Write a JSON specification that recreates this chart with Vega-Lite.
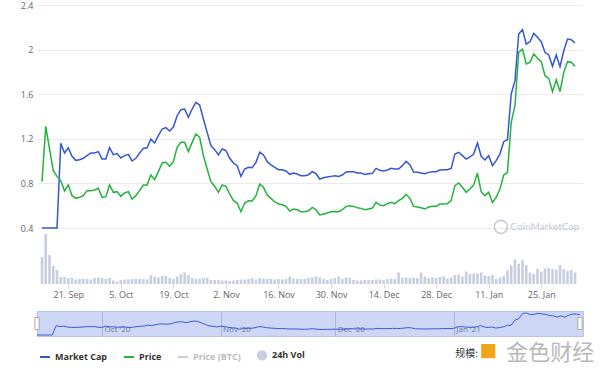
{
"$schema": "https://vega.github.io/schema/vega-lite/v6.json",
"background": "white",
"padding": {"left": 4, "top": 1, "right": 5, "bottom": 0},
"spacing": 11,
"config": {"font": "Open Sans", "view": {"stroke": null}},
"datasets": {"d": [
{"date":"2020-09-14","Market Cap":0.4,"Price":0.816,"Vol":27},
{"date":"2020-09-15","Market Cap":0.4,"Price":1.312,"Vol":50},
{"date":"2020-09-16","Market Cap":0.4,"Price":1.109,"Vol":29},
{"date":"2020-09-17","Market Cap":0.4,"Price":0.914,"Vol":18},
{"date":"2020-09-18","Market Cap":0.4,"Price":0.863,"Vol":14},
{"date":"2020-09-19","Market Cap":1.159,"Price":0.825,"Vol":7},
{"date":"2020-09-20","Market Cap":1.073,"Price":0.732,"Vol":7},
{"date":"2020-09-21","Market Cap":1.120,"Price":0.786,"Vol":6},
{"date":"2020-09-22","Market Cap":1.043,"Price":0.690,"Vol":6},
{"date":"2020-09-23","Market Cap":1.007,"Price":0.666,"Vol":4.5},
{"date":"2020-09-24","Market Cap":1.013,"Price":0.675,"Vol":5},
{"date":"2020-09-25","Market Cap":1.025,"Price":0.690,"Vol":5},
{"date":"2020-09-26","Market Cap":1.049,"Price":0.735,"Vol":5},
{"date":"2020-09-27","Market Cap":1.073,"Price":0.735,"Vol":4.5},
{"date":"2020-09-28","Market Cap":1.073,"Price":0.741,"Vol":6},
{"date":"2020-09-29","Market Cap":1.085,"Price":0.756,"Vol":6.5},
{"date":"2020-09-30","Market Cap":1.019,"Price":0.675,"Vol":6},
{"date":"2020-10-01","Market Cap":1.019,"Price":0.681,"Vol":5},
{"date":"2020-10-02","Market Cap":1.120,"Price":0.786,"Vol":6},
{"date":"2020-10-03","Market Cap":1.058,"Price":0.720,"Vol":3.5},
{"date":"2020-10-04","Market Cap":1.067,"Price":0.726,"Vol":2.5},
{"date":"2020-10-05","Market Cap":1.028,"Price":0.684,"Vol":4},
{"date":"2020-10-06","Market Cap":1.049,"Price":0.714,"Vol":4.5},
{"date":"2020-10-07","Market Cap":1.061,"Price":0.726,"Vol":4.5},
{"date":"2020-10-08","Market Cap":1.001,"Price":0.660,"Vol":5},
{"date":"2020-10-09","Market Cap":1.025,"Price":0.690,"Vol":5},
{"date":"2020-10-10","Market Cap":1.073,"Price":0.735,"Vol":5},
{"date":"2020-10-11","Market Cap":1.114,"Price":0.786,"Vol":5},
{"date":"2020-10-12","Market Cap":1.120,"Price":0.786,"Vol":4.5},
{"date":"2020-10-13","Market Cap":1.198,"Price":0.875,"Vol":8.5},
{"date":"2020-10-14","Market Cap":1.162,"Price":0.834,"Vol":7.5},
{"date":"2020-10-15","Market Cap":1.228,"Price":0.905,"Vol":6.5},
{"date":"2020-10-16","Market Cap":1.288,"Price":0.983,"Vol":8},
{"date":"2020-10-17","Market Cap":1.300,"Price":0.989,"Vol":8},
{"date":"2020-10-18","Market Cap":1.270,"Price":0.953,"Vol":6},
{"date":"2020-10-19","Market Cap":1.306,"Price":0.995,"Vol":5},
{"date":"2020-10-20","Market Cap":1.407,"Price":1.123,"Vol":7.5},
{"date":"2020-10-21","Market Cap":1.461,"Price":1.168,"Vol":10},
{"date":"2020-10-22","Market Cap":1.467,"Price":1.168,"Vol":11.5},
{"date":"2020-10-23","Market Cap":1.393,"Price":1.085,"Vol":9},
{"date":"2020-10-24","Market Cap":1.467,"Price":1.168,"Vol":6},
{"date":"2020-10-25","Market Cap":1.527,"Price":1.243,"Vol":5},
{"date":"2020-10-26","Market Cap":1.503,"Price":1.213,"Vol":5},
{"date":"2020-10-27","Market Cap":1.378,"Price":1.049,"Vol":6},
{"date":"2020-10-28","Market Cap":1.258,"Price":0.929,"Vol":6},
{"date":"2020-10-29","Market Cap":1.138,"Price":0.816,"Vol":4},
{"date":"2020-10-30","Market Cap":1.103,"Price":0.774,"Vol":4},
{"date":"2020-10-31","Market Cap":1.055,"Price":0.720,"Vol":4},
{"date":"2020-11-01","Market Cap":1.109,"Price":0.786,"Vol":3.5},
{"date":"2020-11-02","Market Cap":1.094,"Price":0.774,"Vol":3.5},
{"date":"2020-11-03","Market Cap":1.025,"Price":0.705,"Vol":3},
{"date":"2020-11-04","Market Cap":0.983,"Price":0.645,"Vol":3.5},
{"date":"2020-11-05","Market Cap":0.959,"Price":0.624,"Vol":4},
{"date":"2020-11-06","Market Cap":0.863,"Price":0.546,"Vol":4.5},
{"date":"2020-11-07","Market Cap":0.929,"Price":0.624,"Vol":4.5},
{"date":"2020-11-08","Market Cap":0.944,"Price":0.645,"Vol":5},
{"date":"2020-11-09","Market Cap":0.941,"Price":0.642,"Vol":6},
{"date":"2020-11-10","Market Cap":0.989,"Price":0.690,"Vol":4.5},
{"date":"2020-11-11","Market Cap":1.079,"Price":0.795,"Vol":6},
{"date":"2020-11-12","Market Cap":1.055,"Price":0.765,"Vol":5.5},
{"date":"2020-11-13","Market Cap":0.995,"Price":0.696,"Vol":5},
{"date":"2020-11-14","Market Cap":0.965,"Price":0.666,"Vol":5},
{"date":"2020-11-15","Market Cap":0.944,"Price":0.636,"Vol":4.5},
{"date":"2020-11-16","Market Cap":0.923,"Price":0.615,"Vol":5},
{"date":"2020-11-17","Market Cap":0.923,"Price":0.609,"Vol":4.5},
{"date":"2020-11-18","Market Cap":0.911,"Price":0.594,"Vol":5},
{"date":"2020-11-19","Market Cap":0.881,"Price":0.552,"Vol":7.5},
{"date":"2020-11-20","Market Cap":0.893,"Price":0.570,"Vol":5.5},
{"date":"2020-11-21","Market Cap":0.884,"Price":0.564,"Vol":5},
{"date":"2020-11-22","Market Cap":0.869,"Price":0.546,"Vol":5},
{"date":"2020-11-23","Market Cap":0.869,"Price":0.546,"Vol":5},
{"date":"2020-11-24","Market Cap":0.878,"Price":0.555,"Vol":6},
{"date":"2020-11-25","Market Cap":0.905,"Price":0.585,"Vol":6.5},
{"date":"2020-11-26","Market Cap":0.887,"Price":0.564,"Vol":7.5},
{"date":"2020-11-27","Market Cap":0.839,"Price":0.517,"Vol":6.5},
{"date":"2020-11-28","Market Cap":0.851,"Price":0.526,"Vol":5},
{"date":"2020-11-29","Market Cap":0.857,"Price":0.535,"Vol":4},
{"date":"2020-11-30","Market Cap":0.863,"Price":0.546,"Vol":5},
{"date":"2020-12-01","Market Cap":0.869,"Price":0.549,"Vol":6},
{"date":"2020-12-02","Market Cap":0.863,"Price":0.546,"Vol":7.5},
{"date":"2020-12-03","Market Cap":0.875,"Price":0.564,"Vol":5},
{"date":"2020-12-04","Market Cap":0.902,"Price":0.594,"Vol":6.5},
{"date":"2020-12-05","Market Cap":0.905,"Price":0.600,"Vol":6},
{"date":"2020-12-06","Market Cap":0.905,"Price":0.594,"Vol":4},
{"date":"2020-12-07","Market Cap":0.893,"Price":0.582,"Vol":3.5},
{"date":"2020-12-08","Market Cap":0.893,"Price":0.576,"Vol":3.5},
{"date":"2020-12-09","Market Cap":0.881,"Price":0.564,"Vol":4},
{"date":"2020-12-10","Market Cap":0.887,"Price":0.570,"Vol":4},
{"date":"2020-12-11","Market Cap":0.890,"Price":0.579,"Vol":4},
{"date":"2020-12-12","Market Cap":0.935,"Price":0.630,"Vol":4.5},
{"date":"2020-12-13","Market Cap":0.917,"Price":0.606,"Vol":4.5},
{"date":"2020-12-14","Market Cap":0.911,"Price":0.600,"Vol":4},
{"date":"2020-12-15","Market Cap":0.920,"Price":0.618,"Vol":5},
{"date":"2020-12-16","Market Cap":0.935,"Price":0.630,"Vol":5.5},
{"date":"2020-12-17","Market Cap":0.929,"Price":0.618,"Vol":5},
{"date":"2020-12-18","Market Cap":0.929,"Price":0.645,"Vol":11.5},
{"date":"2020-12-19","Market Cap":0.959,"Price":0.666,"Vol":6},
{"date":"2020-12-20","Market Cap":0.998,"Price":0.702,"Vol":6.5},
{"date":"2020-12-21","Market Cap":0.968,"Price":0.666,"Vol":6},
{"date":"2020-12-22","Market Cap":0.902,"Price":0.594,"Vol":6},
{"date":"2020-12-23","Market Cap":0.899,"Price":0.588,"Vol":6},
{"date":"2020-12-24","Market Cap":0.893,"Price":0.582,"Vol":11.5},
{"date":"2020-12-25","Market Cap":0.887,"Price":0.570,"Vol":7.5},
{"date":"2020-12-26","Market Cap":0.899,"Price":0.588,"Vol":6},
{"date":"2020-12-27","Market Cap":0.905,"Price":0.594,"Vol":6.5},
{"date":"2020-12-28","Market Cap":0.905,"Price":0.594,"Vol":6},
{"date":"2020-12-29","Market Cap":0.920,"Price":0.615,"Vol":7},
{"date":"2020-12-30","Market Cap":0.923,"Price":0.615,"Vol":7.5},
{"date":"2020-12-31","Market Cap":0.923,"Price":0.618,"Vol":5},
{"date":"2021-01-01","Market Cap":0.935,"Price":0.645,"Vol":6.5},
{"date":"2021-01-02","Market Cap":1.064,"Price":0.780,"Vol":9},
{"date":"2021-01-03","Market Cap":1.079,"Price":0.804,"Vol":9.5},
{"date":"2021-01-04","Market Cap":1.049,"Price":0.765,"Vol":7.5},
{"date":"2021-01-05","Market Cap":1.019,"Price":0.720,"Vol":12.5},
{"date":"2021-01-06","Market Cap":1.037,"Price":0.750,"Vol":10},
{"date":"2021-01-07","Market Cap":1.064,"Price":0.786,"Vol":10.5},
{"date":"2021-01-08","Market Cap":1.162,"Price":0.893,"Vol":10.5},
{"date":"2021-01-09","Market Cap":1.043,"Price":0.726,"Vol":11.5},
{"date":"2021-01-10","Market Cap":1.010,"Price":0.690,"Vol":8.5},
{"date":"2021-01-11","Market Cap":1.049,"Price":0.720,"Vol":8},
{"date":"2021-01-12","Market Cap":0.959,"Price":0.630,"Vol":9},
{"date":"2021-01-13","Market Cap":1.004,"Price":0.675,"Vol":5},
{"date":"2021-01-14","Market Cap":1.064,"Price":0.750,"Vol":6.5},
{"date":"2021-01-15","Market Cap":1.174,"Price":0.875,"Vol":8},
{"date":"2021-01-16","Market Cap":1.192,"Price":0.899,"Vol":13.5},
{"date":"2021-01-17","Market Cap":1.602,"Price":1.348,"Vol":18.5},
{"date":"2021-01-18","Market Cap":1.721,"Price":1.497,"Vol":24.5},
{"date":"2021-01-19","Market Cap":2.140,"Price":1.975,"Vol":20},
{"date":"2021-01-20","Market Cap":2.179,"Price":2.005,"Vol":24},
{"date":"2021-01-21","Market Cap":2.050,"Price":1.871,"Vol":19},
{"date":"2021-01-22","Market Cap":2.071,"Price":1.886,"Vol":11.5},
{"date":"2021-01-23","Market Cap":2.146,"Price":1.961,"Vol":10},
{"date":"2021-01-24","Market Cap":2.110,"Price":1.922,"Vol":15},
{"date":"2021-01-25","Market Cap":2.071,"Price":1.892,"Vol":12.5},
{"date":"2021-01-26","Market Cap":1.975,"Price":1.766,"Vol":15.5},
{"date":"2021-01-27","Market Cap":1.952,"Price":1.742,"Vol":16},
{"date":"2021-01-28","Market Cap":1.850,"Price":1.623,"Vol":15},
{"date":"2021-01-29","Market Cap":1.952,"Price":1.730,"Vol":14.5},
{"date":"2021-01-30","Market Cap":1.847,"Price":1.623,"Vol":19},
{"date":"2021-01-31","Market Cap":1.990,"Price":1.796,"Vol":15},
{"date":"2021-02-01","Market Cap":2.095,"Price":1.892,"Vol":13},
{"date":"2021-02-02","Market Cap":2.089,"Price":1.886,"Vol":14},
{"date":"2021-02-03","Market Cap":2.059,"Price":1.850,"Vol":11.5}
]},
"vconcat": [
{
"width": 546, "height": 279,
"data": {"name": "d"},
"layer": [
{
"mark": {"type": "bar", "size": 2.6},
"encoding": {
"x": {"field": "date", "type": "temporal",
"scale": {"type": "utc", "domain": [{"year": 2020, "month": 9, "date": 14, "utc": true}, {"year": 2021, "month": 2, "date": 3, "hours": 19, "utc": true}]},
"axis": {"title": null, "grid": false, "domain": false, "format": "%-d. %b", "labelFontSize": 9, "labelColor": "#666666", "tickSize": 4, "tickColor": "#ccd6eb", "labelPadding": 2,
"values": [{"year": 2020, "month": 9, "date": 21, "utc": true}, {"year": 2020, "month": 10, "date": 5, "utc": true}, {"year": 2020, "month": 10, "date": 19, "utc": true}, {"year": 2020, "month": 11, "date": 2, "utc": true}, {"year": 2020, "month": 11, "date": 16, "utc": true}, {"year": 2020, "month": 11, "date": 30, "utc": true}, {"year": 2020, "month": 12, "date": 14, "utc": true}, {"year": 2020, "month": 12, "date": 28, "utc": true}, {"year": 2021, "month": 1, "date": 11, "utc": true}, {"year": 2021, "month": 1, "date": 25, "utc": true}]}},
"y": {"field": "Vol", "type": "quantitative", "scale": {"domain": [0, 279], "nice": false}, "axis": null},
"color": {"datum": "24h Vol", "type": "nominal"}
}
},
{
"transform": [{"fold": ["Market Cap", "Price"], "as": ["series", "value"]}],
"mark": {"type": "line", "strokeWidth": 1.5},
"encoding": {
"x": {"field": "date", "type": "temporal"},
"y": {"field": "value", "type": "quantitative", "scale": {"domain": [-0.1022, 2.4], "nice": false, "zero": false},
"axis": {"title": null, "values": [0.4, 0.8, 1.2, 1.6, 2, 2.4], "format": "~g", "grid": true, "gridColor": "#ebebeb", "domain": false, "ticks": false, "tickSize": 0, "labelPadding": 4, "labelFontSize": 9, "labelColor": "#666666", "minExtent": 33, "maxExtent": 33}},
"color": {"field": "series", "type": "nominal",
"scale": {"domain": ["Market Cap", "Price", "Price (BTC)", "24h Vol"], "range": ["#3457d5", "#22b43a", "#cccccc", "#c8cedf"]},
"legend": {"title": null, "orient": "none", "legendX": 2, "legendY": 344, "direction": "horizontal", "columns": 4,
"symbolType": "stroke", "symbolSize": 100, "symbolStrokeWidth": 2, "labelFontSize": 9, "labelFontWeight": "bold", "labelColor": "#333333", "labelOffset": 4, "columnPadding": 12,
"encode": {
"symbols": {"update": {
"shape": {"signal": "datum.value === '24h Vol' ? 'circle' : 'stroke'"},
"stroke": {"signal": "scale('color', datum.value)"},
"fill": {"signal": "datum.value === '24h Vol' ? scale('color', datum.value) : 'transparent'"},
"size": {"signal": "datum.value === '24h Vol' ? 70 : 100"},
"opacity": {"value": 1}}},
"labels": {"update": {"fill": {"signal": "datum.value === 'Price (BTC)' ? '#bbbbbb' : '#333333'"}}}
}}
}
}
},
{
"data": {"values": [{}]},
"mark": {"type": "text", "text": "CoinMarketCap", "align": "right", "baseline": "middle", "fontSize": 10, "color": "#c3c8d6", "font": "Lato"},
"encoding": {
"x": {"datum": {"year": 2021, "month": 2, "date": 4, "hours": 2, "utc": true}, "type": "temporal"},
"y": {"datum": 0.41, "type": "quantitative", "scale": {"domain": [-0.1022, 2.4], "nice": false, "zero": false}, "axis": null}
}
},
{
"data": {"values": [{}]},
"mark": {"type": "point", "shape": "circle", "size": 170, "filled": false, "stroke": "#c3c8d6", "strokeWidth": 1.5, "opacity": 1},
"encoding": {
"x": {"datum": {"year": 2021, "month": 1, "date": 14, "hours": 6, "utc": true}, "type": "temporal"},
"y": {"datum": 0.41, "type": "quantitative", "scale": {"domain": [-0.1022, 2.4], "nice": false, "zero": false}, "axis": null}
}
}
],
"resolve": {"scale": {"y": "independent"}}
},
{
"width": 546, "height": 25,
"data": {"name": "d"},
"view": {"fill": "#cdd6f5", "stroke": "#b8c2ea"},
"layer": [
{
"mark": {"type": "line", "color": "#3a5bd0", "strokeWidth": 1},
"encoding": {
"x": {"field": "date", "type": "temporal",
"scale": {"type": "utc", "domain": [{"year": 2020, "month": 9, "date": 14, "utc": true}, {"year": 2021, "month": 2, "date": 3, "hours": 19, "utc": true}]},
"axis": {"title": null, "grid": true, "gridColor": "#aab5e3", "domain": false, "ticks": false, "format": "%b '%y", "labelAlign": "left", "labelPadding": -11, "labelOffset": 2, "labelFontSize": 8, "labelColor": "#6b7898",
"values": [{"year": 2020, "month": 10, "date": 1, "utc": true}, {"year": 2020, "month": 11, "date": 1, "utc": true}, {"year": 2020, "month": 12, "date": 1, "utc": true}, {"year": 2021, "month": 1, "date": 1, "utc": true}]}},
"y": {"field": "Market Cap", "type": "quantitative", "scale": {"domain": [0.32, 2.34], "nice": false, "zero": false}, "axis": null}
}
},
{
"transform": [{"filter": {"field": "date", "oneOf": [{"year": 2020, "month": 9, "date": 14, "utc": true}, {"year": 2021, "month": 2, "date": 3, "utc": true}]}}],
"mark": {"type": "point", "shape": "M-0.35,-1L0.35,-1L0.35,1L-0.35,1Z", "size": 144, "filled": true, "fill": "#ffffff", "stroke": "#aaaaaa", "strokeWidth": 1, "opacity": 1},
"encoding": {
"x": {"field": "date", "type": "temporal"},
"y": {"datum": 1.33, "type": "quantitative"}
}
},
{
"data": {"values": [{}]},
"mark": {"type": "text", "text": "规模:", "align": "left", "baseline": "middle", "fontSize": 10, "color": "#333333", "font": "Noto Sans CJK SC"},
"encoding": {
"x": {"datum": {"year": 2021, "month": 1, "date": 1, "hours": 9, "utc": true}, "type": "temporal"},
"y": {"datum": -1.134, "type": "quantitative"}
}
},
{
"data": {"values": [{}]},
"mark": {"type": "point", "shape": "square", "size": 200, "filled": true, "color": "#f2a51a", "opacity": 1},
"encoding": {
"x": {"datum": {"year": 2021, "month": 1, "date": 10, "utc": true}, "type": "temporal"},
"y": {"datum": -0.9, "type": "quantitative"}
}
},
{
"data": {"values": [{}]},
"mark": {"type": "text", "text": "金色财经", "align": "left", "baseline": "middle", "fontSize": 22, "color": "#b8b8b8", "font": "Noto Sans CJK SC"},
"encoding": {
"x": {"datum": {"year": 2021, "month": 1, "date": 14, "hours": 17, "utc": true}, "type": "temporal"},
"y": {"datum": -1.054, "type": "quantitative"}
}
}
]
}
]
}
